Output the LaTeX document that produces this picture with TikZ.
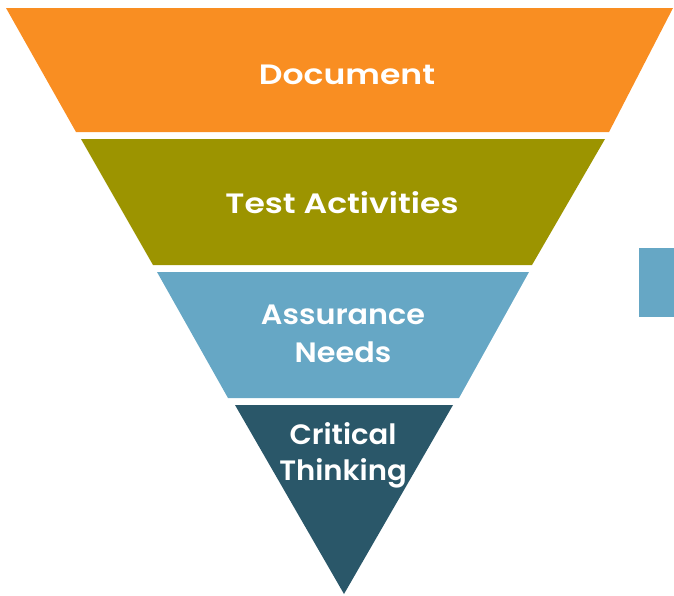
\documentclass[tikz,border=0pt]{standalone}
\usepackage{fontspec}
\setmainfont{Poppins}[BoldFont={Poppins SemiBold}]
\definecolor{docorange}{HTML}{F98E22}
\definecolor{testolive}{HTML}{9C9400}
\definecolor{assurblue}{HTML}{66A7C5}
\definecolor{critteal}{HTML}{2A5769}
\tikzset{
  lbl/.style={text=white,font=\fontsize{28}{32}\selectfont\bfseries,align=center,inner sep=0pt,xscale=1.18},
}
\begin{document}
\begin{tikzpicture}[x=1pt,y=1pt,yscale=-1,xscale=1]
\useasboundingbox (0,0) rectangle (674,595);
% funnel bands
\fill [docorange] (6,8) -- (673,8) -- (609,132) -- (76,132) -- cycle;
\fill [testolive] (81,139) -- (605,139) -- (532,265) -- (153,265) -- cycle;
\fill [assurblue] (157,272) -- (529,272) -- (459,398) -- (228,398) -- cycle;
\fill [critteal] (235,405) -- (453,405) -- (344,594) -- cycle;
% side block
\fill [assurblue] (639,248) rectangle (674,317);
% labels
\node (doc) [lbl,anchor=base] at (347,84) {Document};
\node (test) [lbl,anchor=base] at (342,213) {Test Activities};
\node (assur) [lbl,anchor=base,xscale=1.08/1.18,font=\fontsize{28}{38}\selectfont\bfseries] at (343,362) {Assurance\\Needs};
\node (crit) [lbl,anchor=base,xscale=1.04/1.18,font=\fontsize{28}{36}\selectfont\bfseries] at (343,480) {Critical\\Thinking};
\end{tikzpicture}
\end{document}
